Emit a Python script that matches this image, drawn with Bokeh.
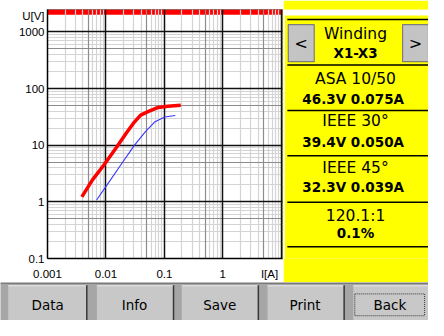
from bokeh.plotting import figure
from bokeh.layouts import row, column
from bokeh.models import Range1d, FixedTicker, Grid
from bokeh.core.properties import value
from bokeh.embed import file_html
from bokeh.resources import INLINE

# ---------------- data ----------------
red_I = [0.00387, 0.00588, 0.00916, 0.0152, 0.0222, 0.0304, 0.0392, 0.0537, 0.0785, 0.1146, 0.1905]
red_U = [1.22, 2.44, 4.43, 9.2, 16.2, 25.3, 33.9, 39.4, 46.4, 48.8, 50.7]
blue_I = [0.00692, 0.01038, 0.0172, 0.0304, 0.0474, 0.0692, 0.1012, 0.1535]
blue_U = [1.08, 1.97, 4.21, 9.8, 17.3, 26.0, 31.4, 33.4]

x_decades = [0.001, 0.01, 0.1, 1]
x_labels = ["0.001", "0.01", "0.1", "1"]
y_decades = [0.1, 1, 10, 100, 1000]
y_labels = ["0.1", "1", "10", "100", "1000"]
x_title, x_title_pos = "I[A]", 6.3
y_title, y_title_pos = "U[V]", 1937
overflow_band = [2010, 2480]

panel_heads = ["Winding", "ASA 10/50", "IEEE 30°", "IEEE 45°", "120.1:1"]
panel_values = ["X1-X3", "46.3V  0.075A", "39.4V  0.050A", "32.3V  0.039A", "0.1%"]
buttons = ["Data", "Info", "Save", "Print", "Back"]

# ---------------- main log-log chart ----------------
p = figure(width=283, height=282, x_axis_type="log", y_axis_type="log",
           x_range=Range1d(0.001, 10.5), y_range=Range1d(0.1, 2480),
           output_backend="svg", toolbar_location=None, title=None,
           min_border_left=47, min_border_right=1, min_border_top=9, min_border_bottom=19,
           background_fill_color="white", border_fill_color="white",
           outline_line_color="#808080")
p.xgrid.visible = False
p.ygrid.visible = False

def mults(decs, ms):
    return [m * d for d in decs for m in ms]

x_minor_decs = [0.001, 0.01, 0.1, 1]
y_minor_decs = [0.1, 1, 10, 100]
grid_specs = [
    (mults(x_minor_decs, (2, 3, 4, 6, 7, 8, 9)), mults(y_minor_decs, (2, 3, 4, 6, 7, 8, 9)), "#d4d4d4", 1.2),
    (mults(x_minor_decs, (5,)), mults(y_minor_decs, (5,)), "#8c8c8c", 1.2),
    (x_decades + [10], y_decades, "#101010", 1.5),
]
for xt, yt, col, w in grid_specs:
    p.add_layout(Grid(dimension=0, ticker=FixedTicker(ticks=xt), grid_line_color=col, grid_line_width=w), "center")
    p.add_layout(Grid(dimension=1, ticker=FixedTicker(ticks=yt), grid_line_color=col, grid_line_width=w), "center")

p.quad(left=[0.001], right=[10.5], bottom=[overflow_band[0]], top=[overflow_band[1]],
       fill_color="#ff0000", line_color=None, level="image")

p.line(blue_I, blue_U, line_color="#3535ff", line_width=1.1)
p.line(red_I, red_U, line_color="#ff0000", line_width=3.5)

p.xaxis.ticker = FixedTicker(ticks=x_decades + [x_title_pos])
p.yaxis.ticker = FixedTicker(ticks=y_decades + [y_title_pos])
xo = {t: l for t, l in zip(x_decades, x_labels)}
xo[x_title_pos] = x_title
yo = {t: l for t, l in zip(y_decades, y_labels)}
yo[y_title_pos] = y_title
p.xaxis.major_label_overrides = xo
p.yaxis.major_label_overrides = yo
for ax in (p.xaxis, p.yaxis):
    ax.major_tick_line_color = None
    ax.minor_tick_line_color = None
    ax.major_tick_out = 0
    ax.major_tick_in = 0
    ax.minor_tick_out = 0
    ax.minor_tick_in = 0
    ax.axis_line_color = "black"
    ax.axis_line_width = 1.5
    ax.major_label_text_font = "Liberation Sans"
    ax.major_label_text_font_size = "11.5px"
    ax.major_label_text_color = "black"
p.xaxis.major_label_standoff = 9
p.yaxis.major_label_standoff = 3

# ---------------- right yellow panel (layout in screen-space units) ----------------
q = figure(width=145, height=282, x_range=Range1d(293, 444), y_range=Range1d(296, 0),
           output_backend="svg", toolbar_location=None, title=None,
           x_axis_location=None, y_axis_location=None, min_border=0,
           background_fill_color="#ffff00", border_fill_color="#ffff00", outline_line_color=None)
q.grid.visible = False
q.quad(left=[293], right=[294.5], top=[0], bottom=[296], fill_color="white", line_color=None)
q.quad(left=[293], right=[444], top=[0], bottom=[7], fill_color="white", line_color=None)
sep_y = [12, 66, 120, 174, 229, 282]
q.segment(x0=[297] * len(sep_y), x1=[444] * len(sep_y), y0=sep_y, y1=sep_y, line_color="black", line_width=1.5)
q.quad(left=[298, 417], right=[325, 444], top=[18, 18], bottom=[62, 62],
       fill_color="#c4c4c4", line_color="#7c7c7c", line_width=1.2)
q.text(x=[311.5, 430.5], y=[40, 40], text=["<", ">"], text_align="center", text_baseline="middle",
       text_font=value("DejaVu Sans"), text_font_size="16px", text_color="black")
head_y = [29, 83, 132, 189, 245]
val_y = [52, 106, 157, 211, 266]
q.text(x=[368] * 5, y=head_y, text=panel_heads, text_align="center", text_baseline="middle",
       text_font=value("DejaVu Sans"), text_font_size="15.5px", text_color="black")
q.text(x=[368] * 5, y=val_y, text=panel_values, text_align="center", text_baseline="middle",
       text_font=value("DejaVu Sans"), text_font_size="13.5px", text_font_style="bold", text_color="black")

# ---------------- bottom button bar ----------------
b = figure(width=428, height=38, x_range=Range1d(0, 444), y_range=Range1d(336, 296),
           output_backend="svg", toolbar_location=None, title=None,
           x_axis_location=None, y_axis_location=None, min_border=0,
           background_fill_color="#a6a6a6", border_fill_color="#a6a6a6", outline_line_color=None)
b.grid.visible = False
b.segment(x0=[0], x1=[444], y0=[296.8], y1=[296.8], line_color="#7a7a7a", line_width=1.5)
bl = [8, 100, 188, 277, 366]
br = [89, 179, 267, 356, 444]
b.quad(left=bl, right=br, top=[299] * 5, bottom=[340] * 5, fill_color="#c8c8c8", line_color=None)
b.segment(x0=bl, x1=br, y0=[299.5] * 5, y1=[299.5] * 5, line_color="#e6e6e6", line_width=1)
b.segment(x0=[x + 0.5 for x in br], x1=[x + 0.5 for x in br], y0=[299] * 5, y1=[340] * 5,
          line_color="#3a3a3a", line_width=1.5)
b.quad(left=[367.5], right=[440], top=[308], bottom=[331], fill_color=None,
       line_color="#333333", line_dash="1 1", line_width=1)
b.text(x=[49, 139, 227.5, 316, 404], y=[320] * 5, text=buttons, text_align="center", text_baseline="middle",
       text_font=value("DejaVu Sans"), text_font_size="13.5px", text_color="black")

layout = column(row(p, q, spacing=0), b, spacing=0)
open("out.html", "w").write(file_html(layout, INLINE))
